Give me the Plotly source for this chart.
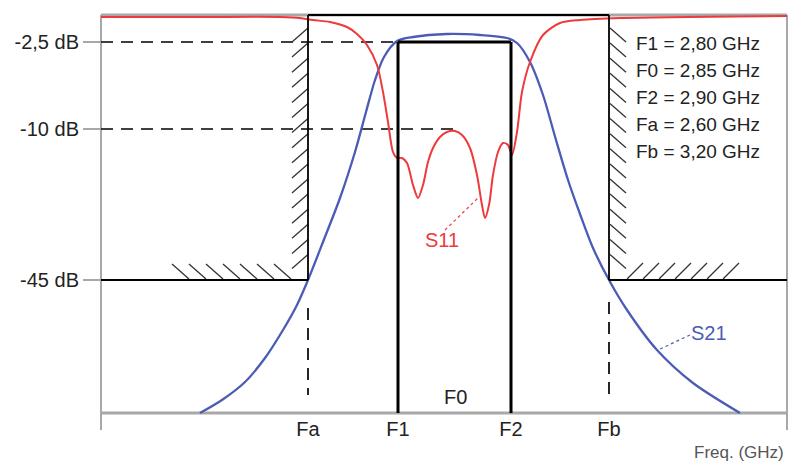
import plotly.graph_objects as go

# ---- schematic coordinates (x: frequency axis units, y: level units above the axis) ----
x_min, x_max = 0, 686          # frequency axis extent
y_top = 398                    # 0 dB reference (top of chart)

freq_names = ["Fa", "F1", "F2", "Fb"]
freq_pos = [207, 297, 410, 508]
f0_pos = 354

level_labels = ["-2,5 dB", "-10 dB", "-45 dB"]
level_pos = [371, 284, 133]

spec_lines = ["F1 = 2,80 GHz", "F0 = 2,85 GHz", "F2 = 2,90 GHz",
              "Fa = 2,60 GHz", "Fb = 3,20 GHz"]

# S21 (transmission)
s21_x = [99, 121, 144, 164, 182, 196, 207, 222, 239, 254, 265, 274, 283, 296, 312,
         346, 379, 406, 416, 429, 442, 455, 467, 479, 492, 508, 526, 556, 592, 639]
s21_y = [0, 13, 31, 55, 83, 108, 133, 171, 215, 261, 301, 333, 356, 372, 376,
         379, 378, 375, 370, 351, 318, 273, 233, 199, 165, 133, 103, 63, 30, 0]

# S11 (reflection)
s11_x = [0, 99, 179, 199, 212, 229, 246, 256, 266, 276, 282, 287, 292, 296, 301, 306,
         312, 317, 322, 327, 332, 339, 346, 354, 361, 369, 376, 381, 384, 388, 392,
         397, 402, 407, 411, 416, 421, 429, 442, 459, 479, 519, 686]
s11_y = [396, 396, 396, 395, 393, 391, 386, 379, 368, 348, 321, 291, 261, 255, 255, 250,
         228, 215, 228, 251, 265, 276, 281, 282, 278, 265, 238, 208, 195, 208, 238,
         261, 270, 268, 258, 281, 321, 351, 378, 390, 393, 395, 397]

RED = "#ee3a3a"
BLUE = "#4b5cb6"
GRAY = "#a8a8a8"
FONT = "Liberation Sans, Arial, sans-serif"
DASH = "12px,8px"

fig = go.Figure()

# hatching of the stop-band mask (decoration)
hx, hy = [], []
wl, wr, lev = freq_pos[0], freq_pos[3], level_pos[2]
for i in range(16):                         # left wall "/"
    y0 = 385 - i * 15.1
    hx += [wl - 16, wl, None]; hy += [y0 - 14, y0, None]
for i in range(7):                          # left floor "\"
    x0 = 71 + i * 17
    hx += [x0, x0 + 17, None]; hy += [lev + 16, lev + 1, None]
for i in range(16):                         # right wall "\"
    y0 = 385 - i * 15.1
    hx += [wr + 1, wr + 17, None]; hy += [y0, y0 - 14, None]
for i in range(7):                          # right floor "/"
    x0 = 526 + i * 16
    hx += [x0, x0 + 16, None]; hy += [lev + 1, lev + 17, None]
fig.add_trace(go.Scatter(x=hx, y=hy, mode="lines",
                         line=dict(color="#333333", width=1.3),
                         hoverinfo="skip", showlegend=False))

# curves
fig.add_trace(go.Scatter(x=s21_x, y=s21_y, mode="lines", name="S21",
                         line=dict(color=BLUE, width=2.3, shape="spline", smoothing=0.8),
                         showlegend=False))
fig.add_trace(go.Scatter(x=s11_x, y=s11_y, mode="lines", name="S11",
                         line=dict(color=RED, width=2, shape="spline", smoothing=0.8),
                         showlegend=False))

shapes = []
def seg(x0, y0, x1, y1, color="black", width=2, dash=None, layer="below"):
    shapes.append(dict(type="line", xref="x", yref="y", x0=x0, y0=y0, x1=x1, y1=y1,
                       line=dict(color=color, width=width, dash=dash), layer=layer))

# frame
seg(x_min, -17, x_min, y_top, GRAY, 2)
seg(x_max, -17, x_max, y_top, GRAY, 2)
seg(x_min, y_top, x_max, y_top, GRAY, 3)
seg(x_min, 0, x_max, 0, GRAY, 3)

# stop-band mask
seg(x_min, lev, wl, lev, "black", 1.8, layer="above")
seg(wl, lev, wl, y_top, "black", 1.8, layer="above")
seg(wl, y_top, wr, y_top, "black", 2, layer="above")
seg(wr, y_top, wr, lev, "black", 1.8, layer="above")
seg(wr, lev, x_max, lev, "black", 1.8, layer="above")

# dashed guides
seg(x_min, level_pos[0], freq_pos[1], level_pos[0], "black", 1.7, DASH)
seg(x_min, level_pos[1], f0_pos - 2, level_pos[1], "black", 1.7, DASH)
seg(freq_pos[0], 105, freq_pos[0], 18, "black", 1.7, DASH)
seg(freq_pos[3], 111, freq_pos[3], 18, "black", 1.7, DASH)

# pass-band box
seg(freq_pos[1], 0, freq_pos[1], level_pos[0], "black", 3, layer="above")
seg(freq_pos[1], level_pos[0], freq_pos[2], level_pos[0], "black", 3, layer="above")
seg(freq_pos[2], level_pos[0], freq_pos[2], 0, "black", 3, layer="above")

# leader lines
seg(344, 183, 377, 215, RED, 1.2, "dot", layer="above")
seg(589, 78, 557, 63, BLUE, 1.2, "dot", layer="above")

annotations = [
    dict(x=f0_pos, y=16, text="F0", showarrow=False, xanchor="center", yanchor="middle",
         font=dict(family=FONT, size=20, color="#222")),
    dict(x=638, y=-39, text="Freq. (GHz)", showarrow=False, xanchor="center", yanchor="middle",
         font=dict(family=FONT, size=17, color="#555")),
    dict(x=341, y=173, text="S11", showarrow=False, xanchor="center", yanchor="middle",
         font=dict(family=FONT, size=20, color=RED)),
    dict(x=608, y=80, text="S21", showarrow=False, xanchor="center", yanchor="middle",
         font=dict(family=FONT, size=20, color=BLUE)),
]
for i, t in enumerate(spec_lines):
    annotations.append(dict(x=533, y=370 - 27 * i, text=t, showarrow=False,
                            xanchor="left", yanchor="middle",
                            font=dict(family=FONT, size=19, color="#222")))

fig.update_layout(
    width=790, height=464, margin=dict(l=0, r=0, t=0, b=0),
    paper_bgcolor="white", plot_bgcolor="white",
    shapes=shapes, annotations=annotations,
    xaxis=dict(range=[-101, 689], showgrid=False, zeroline=False, showline=False,
               anchor="free", position=51 / 464,
               tickvals=freq_pos, ticktext=freq_names, ticks="",
               ticklabelstandoff=2,
               tickfont=dict(family=FONT, size=20, color="#222")),
    yaxis=dict(range=[-51, 413], showgrid=False, zeroline=False, showline=False,
               anchor="free", position=101 / 790,
               tickvals=level_pos, ticktext=level_labels, ticks="outside",
               ticklen=18, tickwidth=2, tickcolor=GRAY,
               tickfont=dict(family=FONT, size=20, color="#222")),
)

fig.write_html("out.html")
